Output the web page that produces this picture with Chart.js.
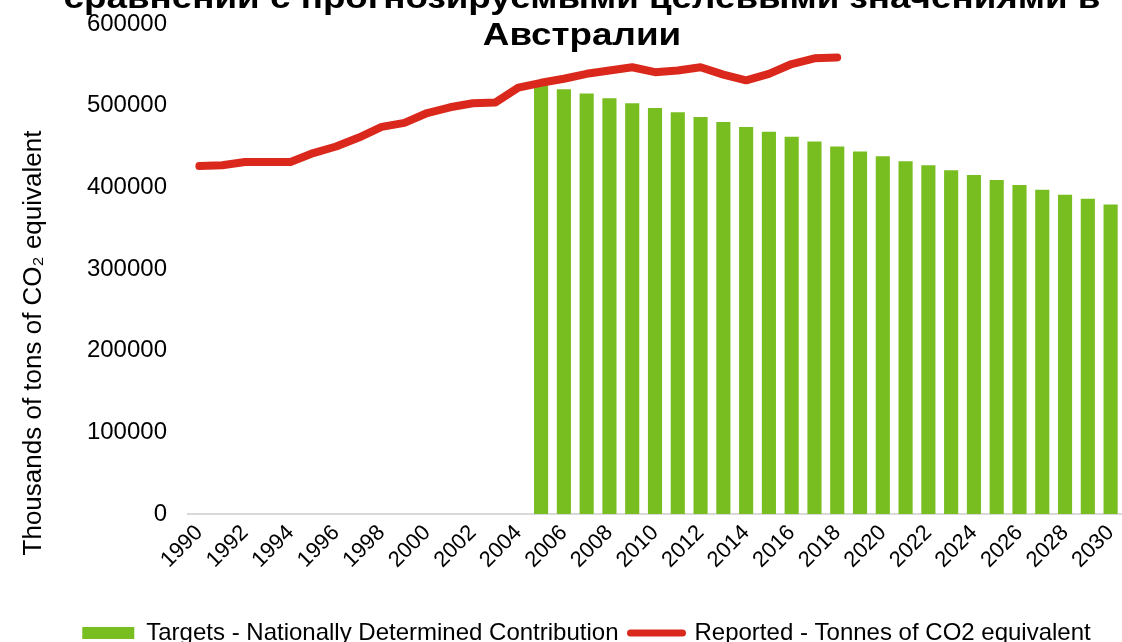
<!DOCTYPE html>
<html>
<head>
<meta charset="utf-8">
<script src="https://cdn.jsdelivr.net/npm/chart.js@4"></script>
<style>
    html, body { margin: 0; padding: 0; background: #fff; overflow: hidden; }
    #wrap { width: 1122px; height: 642px; }
</style>
</head>
<body>
<div id="wrap"><canvas id="emissionsChart" width="1122" height="642"></canvas></div>
<script>
const years = ['1990', '1991', '1992', '1993', '1994', '1995', '1996', '1997', '1998', '1999',
    '2000', '2001', '2002', '2003', '2004', '2005', '2006', '2007', '2008', '2009',
    '2010', '2011', '2012', '2013', '2014', '2015', '2016', '2017', '2018', '2019',
    '2020', '2021', '2022', '2023', '2024', '2025', '2026', '2027', '2028', '2029', '2030'];

// NDC targets, 2005-2030 (no values before 2005)
const targets = [null, null, null, null, null, null, null, null, null, null,
    null, null, null, null, null, 525000, 520000, 515000, 509000, 503000,
    497000, 492000, 486000, 480000, 474000, 468000, 462000, 456000, 450000, 444000,
    438000, 432000, 427000, 421000, 415000, 409000, 403000, 397000, 391000, 386000, 379000];

// reported emissions, 1990-2018
const reported = [426000, 427000, 431000, 431000, 431000, 442000, 450000, 461000, 474000, 479000,
    491000, 498000, 503000, 504000, 522000, 528000, 533000, 539000, 543000, 547000,
    541000, 543000, 547000, 538000, 531000, 539000, 551000, 558000, 559000, null,
    null, null, null, null, null, null, null, null, null, null, null];

const yTicks = [0, 100000, 200000, 300000, 400000, 500000, 600000];

const titleLines = ['сравнении с прогнозируемыми целевыми значениями в', 'Австралии'];
const yTitle = 'Thousands of tons of CO₂ equivalent';

const GREEN = '#78be20';
const RED = '#da291c';
const FONT = "'Liberation Sans', Arial, sans-serif";

// title runs off the top of the canvas in the original, and the axis title sits
// lower than the axis centre, so both are drawn by hand
const textPlugin = {
    id: 'extraText',
    afterDraw(chart) {
        const ctx = chart.ctx;
        ctx.save();
        ctx.fillStyle = '#000';
        ctx.textAlign = 'center';
        ctx.textBaseline = 'alphabetic';
        ctx.font = 'bold 32px ' + FONT;
        [8, 45].forEach((y, i) => {
            ctx.save();
            ctx.translate(582, y);
            ctx.scale(1.15, 1);
            ctx.fillText(titleLines[i], 0, 0);
            ctx.restore();
        });

        ctx.font = '26px ' + FONT;
        ctx.textBaseline = 'middle';
        ctx.translate(34, 343);
        ctx.rotate(-Math.PI / 2);
        ctx.fillText(yTitle, 0, 0);
        ctx.restore();
    }
};

document.addEventListener('DOMContentLoaded', () => {
    const ctx = document.getElementById('emissionsChart');

    new Chart(ctx.getContext('2d'), {
        type: 'bar',
        data: {
            labels: years,
            datasets: [{
                type: 'bar',
                label: 'Targets - Nationally Determined Contribution',
                data: targets,
                backgroundColor: GREEN,
                borderWidth: 0,
                categoryPercentage: 1,
                barPercentage: 0.62,
                order: 2
            }, {
                type: 'line',
                label: 'Reported - Tonnes of CO2 equivalent',
                data: reported,
                borderColor: RED,
                backgroundColor: RED,
                borderWidth: 8,
                borderCapStyle: 'round',
                borderJoinStyle: 'round',
                pointRadius: 0,
                tension: 0,
                spanGaps: false,
                order: 1
            }]
        },
        options: {
            responsive: false,
            animation: false,
            layout: { padding: { left: 46, right: -5, top: 24, bottom: -13 } },
            plugins: {
                title: { display: false },
                tooltip: { enabled: false },
                legend: {
                    position: 'bottom',
                    labels: {
                        color: '#000',
                        font: { family: FONT, size: 24 },
                        usePointStyle: true,
                        pointStyleWidth: 52,
                        boxHeight: 12,
                        padding: 12,
                        sort: (a, b) => a.datasetIndex - b.datasetIndex,
                        generateLabels(chart) {
                            const items = Chart.defaults.plugins.legend.labels.generateLabels(chart);
                            items.forEach(item => {
                                if (item.datasetIndex === 0) {
                                    item.pointStyle = 'rect';
                                    item.fillStyle = GREEN;
                                    item.strokeStyle = GREEN;
                                    item.lineWidth = 0;
                                } else {
                                    item.pointStyle = 'line';
                                    item.strokeStyle = RED;
                                    item.lineWidth = 7;
                                    item.lineCap = 'round';
                                }
                            });
                            return items;
                        }
                    }
                }
            },
            scales: {
                x: {
                    grid: { display: false, drawTicks: false },
                    border: { display: true, color: '#d9d9d9', width: 2 },
                    afterFit(scale) {
                        scale.paddingLeft = 0;
                        scale.paddingRight = 0;
                        scale.height = 95;
                    },
                    ticks: {
                        color: '#000',
                        font: { family: FONT, size: 22 },
                        autoSkip: false,
                        minRotation: 45,
                        maxRotation: 45,
                        padding: 6,
                        callback(value, index) {
                            return index % 2 === 0 ? years[index] : '';
                        }
                    }
                },
                y: {
                    min: 0,
                    max: 600000,
                    grid: { display: false, drawTicks: false },
                    border: { display: false },
                    afterBuildTicks(scale) {
                        scale.ticks = yTicks.map(v => ({ value: v }));
                    },
                    afterFit(scale) {
                        scale.width = 142;
                        scale.paddingTop = 0;
                        scale.paddingBottom = 0;
                    },
                    ticks: {
                        color: '#000',
                        font: { family: FONT, size: 24 },
                        padding: 21,
                        callback: v => String(v)
                    }
                }
            }
        },
        plugins: [textPlugin]
    });
});
</script>
</body>
</html>
